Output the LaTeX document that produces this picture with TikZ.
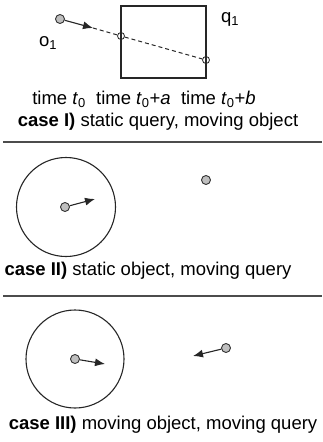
\documentclass[tikz,border=0pt]{standalone}
\usepackage{fontspec}
\setmainfont{Liberation Sans}
\usetikzlibrary{arrows.meta}
\tikzset{
  pt/.style={circle,draw=black!80,fill=black!25,line width=0.9pt,inner sep=0pt,minimum size=9pt},
  cross/.style={circle,draw=black!85,line width=0.8pt,inner sep=0pt,minimum size=7pt},
  motion/.style={line width=1.1pt,draw=black!85,-{Latex[length=10pt,width=8pt]}},
  lbl/.style={inner sep=0pt,font=\fontsize{18.5}{22}\selectfont},
  sep/.style={line width=1.1pt,draw=black!70},
  ring/.style={line width=1.1pt,draw=black!85},
  track/.style={dash pattern=on 4pt off 3pt,line width=1pt,draw=black!85}
}
\begin{document}
\begin{tikzpicture}[x=1pt,y=-1pt]
\useasboundingbox (0,0) rectangle (323,442);
% case I: static query box, moving object
\draw[ring] (121,6) rectangle (206,78);
\node[pt] (o1) at (60,19) {};
\coordinate (a1) at (93,28);
\node[cross] (c1) at (121,36) {};
\node[cross] (c2) at (206,60) {};
\draw[motion] (o1) -- (a1);
\draw[track] (a1) -- (c1) -- (c2);
\node[lbl] (lo) at (48,43) {o\textsubscript{1}};
\node[lbl] (lq) at (230,19) {q\textsubscript{1}};
\node[lbl] (times) at (144,99) {time \textit{t}\textsubscript{0}\ \ time \textit{t}\textsubscript{0}+\textit{a}\ \ time \textit{t}\textsubscript{0}+\textit{b}};
\node[lbl] (cap1) at (158,122) {\textbf{case I)} static query, moving object};
\coordinate (s1a) at (3,142);
\coordinate (s1b) at (322,142);
\draw[sep] (s1a) -- (s1b);
% case II: static object, moving query
\node[ring,circle,minimum size=99pt,inner sep=0pt] (q2) at (66,207) {};
\node[pt] (p2) at (65,207) {};
\coordinate (a2) at (95,199);
\draw[motion] (p2) -- (a2);
\node[pt] (o2) at (206,180) {};
\node[lbl] (cap2) at (148,271) {\textbf{case II)} static object, moving query};
\coordinate (s2a) at (3,296);
\coordinate (s2b) at (322,296);
\draw[sep] (s2a) -- (s2b);
% case III: moving object, moving query
\node[ring,circle,minimum size=98pt,inner sep=0pt] (q3) at (75,359) {};
\node[pt] (p3) at (75,359) {};
\coordinate (a3) at (105,364);
\draw[motion] (p3) -- (a3);
\node[pt] (o3) at (226,348) {};
\coordinate (a4) at (193,356);
\draw[motion] (o3) -- (a4);
\node[lbl] (cap3) at (163,425) {\textbf{case III)} moving object, moving query};
\end{tikzpicture}
\end{document}
